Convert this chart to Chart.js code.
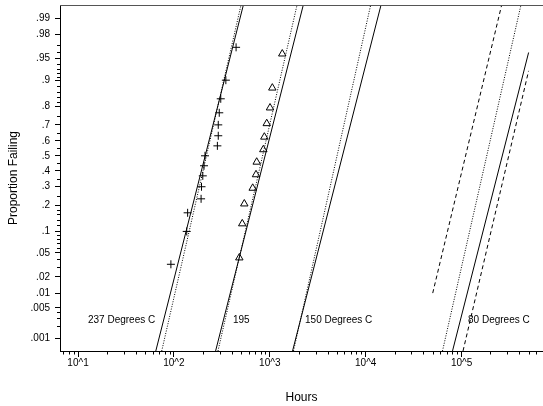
<!DOCTYPE html>
<html>
<head>
<meta charset="utf-8">
<script src="https://cdn.jsdelivr.net/npm/chart.js@4.4.1/dist/chart.umd.min.js"></script>
<style>
  html, body { margin: 0; padding: 0; background: #fff; }
</style>
</head>
<body>
<canvas id="lifeChart" width="543" height="406"></canvas>
<script>
// Lognormal probability plot — failure times at four temperatures

// plotted failures (hours, plotting position)
const hours237 = [93, 136, 139, 192, 194, 200, 206, 211, 284, 290, 290, 297, 308, 348, 445];
const prop237 = [.033, .1, .167, .233, .3, .367, .433, .5, .567, .633, .7, .767, .833, .9, .967];
const hours195 = [481, 516, 542, 663, 718, 730, 856, 877, 929, 1005, 1062, 1349];
const prop195 = [.042, .125, .208, .292, .375, .458, .542, .625, .708, .792, .875, .958];

// fitted lines, [hours, proportion] at each end (ends at the frame where they run off it)
const fit237 = [[64.7, .00047], [530, .9947]];
const alt237 = [[74.6, .00047], [501, .9947]];
const fit195 = [[272, .00047], [2234, .9947]];
const alt195 = [[288, .00047], [1923, .9947]];
const fit150 = [[1726, .00047], [14450, .9947]];
const alt150 = [[1766, .00047], [11270, .9947]];
const fit80 = [[80400, .00047], [500000, .96]];
const alt80 = [[63200, .00047], [416000, .9947]];
const lower80 = [[50000, .01], [261800, .9947]];
const upper80 = [[103500, .00047], [500000, .925]];

const xTickHours = [10, 100, 1000, 10000, 100000];
const xTickLabels = ['10^1', '10^2', '10^3', '10^4', '10^5'];
const yTickProps = [.001, .005, .01, .02, .05, .1, .2, .3, .4, .5, .6, .7, .8, .9, .95, .98, .99];
const yTickLabels = ['.001', '.005', '.01', '.02', '.05', '.1', '.2', '.3', '.4', '.5', '.6', '.7', '.8', '.9', '.95', '.98', '.99'];
const yMinorProps = [.002, .003, .004, .03, .04, .06, .07, .08, .09, .12, .14, .16, .18, .25, .35, .45,
  .55, .65, .75, .82, .84, .86, .88, .91, .92, .93, .94, .96, .97];
const curveNames = ['237 Degrees C', '195', '150 Degrees C', '80 Degrees C'];
const curveNameHours = [12.7, 413, 2330, 116700];
const curveNameProp = .0026;

// inverse normal cdf (Acklam)
function probit(p) {
  const a = [-3.969683028665376e+01, 2.209460984245205e+02, -2.759285104469687e+02, 1.383577518672690e+02, -3.066479806614716e+01, 2.506628277459239e+00];
  const b = [-5.447609879822406e+01, 1.615858368580409e+02, -1.556989798598866e+02, 6.680131188771972e+01, -1.328068155288572e+01];
  const c = [-7.784894002430293e-03, -3.223964580411365e-01, -2.400758277161838e+00, -2.549732539343734e+00, 4.374664141464968e+00, 2.938163982698783e+00];
  const d = [7.784695709041462e-03, 3.224671290700398e-01, 2.445134137142996e+00, 3.754408661907416e+00];
  const plow = 0.02425;
  let q, r;
  if (p < plow) {
    q = Math.sqrt(-2 * Math.log(p));
    return (((((c[0]*q+c[1])*q+c[2])*q+c[3])*q+c[4])*q+c[5]) / ((((d[0]*q+d[1])*q+d[2])*q+d[3])*q+1);
  }
  if (p > 1 - plow) {
    q = Math.sqrt(-2 * Math.log(1 - p));
    return -(((((c[0]*q+c[1])*q+c[2])*q+c[3])*q+c[4])*q+c[5]) / ((((d[0]*q+d[1])*q+d[2])*q+d[3])*q+1);
  }
  q = p - 0.5; r = q * q;
  return (((((a[0]*r+a[1])*r+a[2])*r+a[3])*r+a[4])*r+a[5])*q / (((((b[0]*r+b[1])*r+b[2])*r+b[3])*r+b[4])*r+1);
}

const toXY = (h, p) => ({ x: Math.log10(h), y: probit(p) });

function lineSet(ends, dash) {
  return {
    data: ends.map(e => toXY(e[0], e[1])),
    showLine: true,
    borderColor: '#000',
    borderWidth: 1,
    borderDash: dash,
    pointRadius: 0,
    fill: false
  };
}

const SOLID = [], DOTTED = [1, 1.5], DASHED = [4, 3];

Chart.defaults.font.family = "'Liberation Sans', Arial, sans-serif";
Chart.defaults.color = '#000';

const decor = {
  id: 'decor',
  afterDraw(chart) {
    const { ctx, chartArea: area, scales: { x, y } } = chart;
    ctx.save();
    // top frame line
    ctx.strokeStyle = '#555';
    ctx.lineWidth = 1;
    ctx.beginPath();
    ctx.moveTo(area.left, Math.round(area.top) + 0.5);
    ctx.lineTo(area.right, Math.round(area.top) + 0.5);
    ctx.stroke();

    // minor ticks
    ctx.strokeStyle = '#000';
    ctx.beginPath();
    for (let dec = 0; dec <= 5; dec++) {
      for (let m = 2; m <= 9; m++) {
        const v = dec + Math.log10(m);
        if (v < x.min || v > x.max) continue;
        const px = Math.round(x.getPixelForValue(v)) + 0.5;
        ctx.moveTo(px, area.bottom);
        ctx.lineTo(px, area.bottom + 3.5);
      }
    }
    yMinorProps.forEach(p => {
      const py = Math.round(y.getPixelForValue(probit(p))) + 0.5;
      ctx.moveTo(area.left - 3, py);
      ctx.lineTo(area.left, py);
    });
    ctx.stroke();

    // curve names
    ctx.fillStyle = '#000';
    ctx.font = "10px 'Liberation Sans', Arial, sans-serif";
    ctx.textBaseline = 'middle';
    ctx.textAlign = 'left';
    const py = y.getPixelForValue(probit(curveNameProp));
    curveNames.forEach((name, i) => {
      ctx.fillText(name, x.getPixelForValue(Math.log10(curveNameHours[i])), py);
    });
    ctx.restore();
  }
};

new Chart(document.getElementById('lifeChart').getContext('2d'), {
  type: 'scatter',
  data: {
    datasets: [
      lineSet(fit237, SOLID), lineSet(alt237, DOTTED),
      lineSet(fit195, SOLID), lineSet(alt195, DOTTED),
      lineSet(fit150, SOLID), lineSet(alt150, DOTTED),
      lineSet(lower80, DASHED), lineSet(alt80, DOTTED),
      lineSet(fit80, SOLID), lineSet(upper80, DASHED),
      {
        data: hours237.map((h, i) => toXY(h, prop237[i])),
        pointStyle: 'cross',
        pointRadius: 4,
        borderColor: '#000',
        borderWidth: 1
      },
      {
        data: hours195.map((h, i) => toXY(h, prop195[i])),
        pointStyle: 'triangle',
        pointRadius: 4.3,
        borderColor: '#000',
        backgroundColor: 'rgba(0,0,0,0)',
        borderWidth: 1
      }
    ]
  },
  options: {
    responsive: false,
    animation: false,
    devicePixelRatio: 1,
    layout: { autoPadding: false, padding: { top: 5, right: 0, bottom: 0, left: 0 } },
    plugins: { legend: { display: false }, tooltip: { enabled: false } },
    scales: {
      x: {
        type: 'linear',
        position: 'bottom',
        min: 0.812,
        max: 5.849,
        afterBuildTicks: s => { s.ticks = xTickHours.map(h => ({ value: Math.log10(h) })); },
        afterFit: s => { s.height = 55; s.paddingLeft = 0; s.paddingRight = 0; },
        ticks: {
          callback: (v, i) => xTickLabels[i],
          autoSkip: false,
          maxRotation: 0,
          padding: 0,
          font: { size: 10 },
          color: '#000'
        },
        grid: { drawOnChartArea: false, tickLength: 6, color: '#000' },
        border: { color: '#000' },
        title: { display: true, text: 'Hours', font: { size: 12 }, color: '#000', padding: { top: 0, bottom: 1 } }
      },
      y: {
        type: 'linear',
        min: probit(.00047),
        max: probit(.9947),
        afterBuildTicks: s => { s.ticks = yTickProps.map(p => ({ value: probit(p) })); },
        afterFit: s => { s.width = 60; s.paddingTop = 0; s.paddingBottom = 0; },
        ticks: {
          callback: (v, i) => yTickLabels[i],
          autoSkip: false,
          padding: 5,
          font: { size: 10 },
          color: '#000'
        },
        grid: { drawOnChartArea: false, tickLength: 5, color: '#000' },
        border: { color: '#000' },
        title: { display: true, text: 'Proportion Failing', font: { size: 12 }, color: '#000', padding: { top: 6, bottom: 0 } }
      }
    }
  },
  plugins: [decor]
});
</script>
</body>
</html>
